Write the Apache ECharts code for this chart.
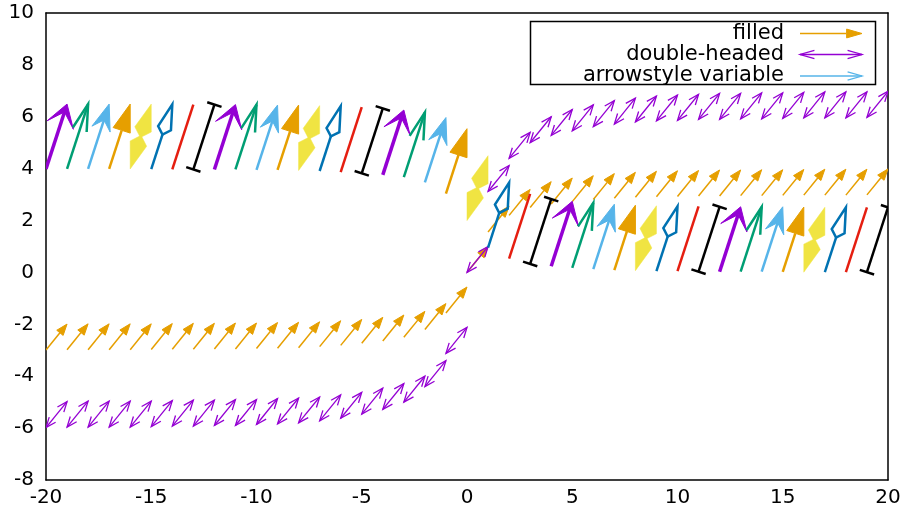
<!DOCTYPE html>
<html><head><meta charset="utf-8">
<script src="https://cdn.jsdelivr.net/npm/echarts@6/dist/echarts.min.js"></script>
<style>html,body{margin:0;padding:0;background:#fff}#c{width:908px;height:513px}</style>
</head><body><div id="c"></div>
<script>
// ---- data ----
const xs = [-20,-19,-18,-17,-16,-15,-14,-13,-12,-11,-10,-9,-8,-7,-6,-5,-4,-3,-2,-1,0,1,2,3,4,5,6,7,8,9,10,11,12,13,14,15,16,17,18,19];
const filledY = [-2.99,-2.98,-2.98,-2.98,-2.98,-2.97,-2.96,-2.96,-2.95,-2.95,-2.93,-2.92,-2.90,-2.86,-2.81,-2.73,-2.64,-2.50,-2.20,-1.56,0,1.56,2.20,2.50,2.64,2.73,2.81,2.86,2.90,2.92,2.93,2.95,2.95,2.96,2.96,2.97,2.98,2.98,2.98,2.99];
const doubleY = [-5.98,-5.96,-5.96,-5.96,-5.96,-5.94,-5.92,-5.92,-5.90,-5.90,-5.86,-5.84,-5.80,-5.72,-5.62,-5.46,-5.28,-5.00,-4.40,-3.12,0,3.12,4.40,5.00,5.28,5.46,5.62,5.72,5.80,5.84,5.86,5.90,5.90,5.92,5.92,5.94,5.96,5.96,5.96,5.98];
const variableY = [3.99,3.99,3.99,3.99,3.99,3.98,3.97,3.97,3.97,3.97,3.95,3.95,3.93,3.91,3.87,3.82,3.76,3.67,3.47,3.04,2.0,0.96,0.53,0.33,0.24,0.18,0.13,0.09,0.07,0.05,0.05,0.03,0.03,0.03,0.03,0.02,0.01,0.01,0.01,0.01];
const styleIdx = [0,1,2,3,4,5,6,7,0,1,2,3,4,5,6,7,0,1,2,3,4,5,6,7,0,1,2,3,4,5,6,7,0,1,2,3,4,5,6,7];
const filledDelta = [1, 1];
const doubleDelta = [1, 1];
const variableDelta = [1, 2.5];
const seriesNames = ['filled', 'double-headed', 'arrowstyle variable'];
const xTickLabels = ['-20','-15','-10','-5','0','5','10','15','20'];
const yTickLabels = ['-8','-6','-4','-2','0','2','4','6','8','10'];

// ---- styles ----
const FONT = 'DejaVu Sans';
const ORANGE = '#e69f00', PURPLE = '#9400d3', LBLUE = '#56b4e9';
const varStyles = [
  {color:'#9400d3', lw:3.5, head:'filled', L:26, a:32, b:45},
  {color:'#009e73', lw:2.5, head:'open', L:28, a:15},
  {color:'#56b4e9', lw:2.5, head:'filled', L:28, a:20, b:45},
  {color:'#e69f00', lw:2.5, head:'filled', L:29, a:18, b:90},
  {color:'#f0e442', lw:0, head:'kites', L:28, a:18, b:135},
  {color:'#0072b2', lw:2.5, head:'empty', L:26, a:15, b:135},
  {color:'#e51e10', lw:2.5, head:'none'},
  {color:'#000000', lw:2.5, head:'bars', L:7.5}
];

function geom(tip, u, n, L, a, b) {
  const r = Math.PI/180;
  const ca = Math.cos(a*r), sa = Math.sin(a*r);
  const bx = tip[0]-u[0]*L*ca, by = tip[1]-u[1]*L*ca, w = L*sa;
  const b1 = [bx+n[0]*w, by+n[1]*w], b2 = [bx-n[0]*w, by-n[1]*w];
  let d = L*ca;
  if (b !== undefined && b !== 90) d = L*ca - w*Math.cos(b*r)/Math.sin(b*r);
  return {b1, b2, back:[tip[0]-u[0]*d, tip[1]-u[1]*d]};
}
function line(p, q, color, lw) {
  return {type:'line', shape:{x1:p[0],y1:p[1],x2:q[0],y2:q[1]}, style:{stroke:color, lineWidth:lw, lineCap:'butt'}};
}
function poly(pts, fill, stroke, lw) {
  return {type:'polygon', shape:{points:pts}, style:{fill:fill, stroke:stroke, lineWidth:lw||0, lineJoin:'miter'}};
}
function pline(pts, color, lw) {
  return {type:'polyline', shape:{points:pts}, style:{stroke:color, lineWidth:lw, fill:null, lineJoin:'miter'}};
}
function arrowShapes(p0, p1, st) {
  const dx = p1[0]-p0[0], dy = p1[1]-p0[1], len = Math.hypot(dx, dy);
  const u = [dx/len, dy/len], n = [-u[1], u[0]];
  const ru = [-u[0], -u[1]], rn = [-n[0], -n[1]];
  const c = st.color, lw = st.lw, out = [];
  if (st.head === 'none') {
    out.push(line(p0, p1, c, lw));
  } else if (st.head === 'filled') {
    const g = geom(p1, u, n, st.L, st.a, st.b);
    out.push(line(p0, g.back, c, lw));
    out.push(poly([p1, g.b1, g.back, g.b2], c, c, 1));
  } else if (st.head === 'open') {
    const g = geom(p1, u, n, st.L, st.a);
    out.push(line(p0, p1, c, lw));
    out.push(pline([g.b1, p1, g.b2], c, lw));
  } else if (st.head === 'openboth') {
    const g = geom(p1, u, n, st.L, st.a);
    const h = geom(p0, ru, rn, st.L, st.a);
    out.push(line(p0, p1, c, lw));
    out.push(pline([g.b1, p1, g.b2], c, lw));
    out.push(pline([h.b1, p0, h.b2], c, lw));
  } else if (st.head === 'kites') {
    const g = geom(p1, u, n, st.L, st.a, st.b);
    const h = geom(p0, ru, rn, st.L, st.a, st.b);
    out.push(poly([p1, g.b1, g.back, g.b2], c, c, 0.5));
    out.push(poly([p0, h.b1, h.back, h.b2], c, c, 0.5));
  } else if (st.head === 'empty') {
    const g = geom(p1, u, n, st.L, st.a, st.b);
    out.push(line(p0, g.back, c, lw));
    out.push(poly([p1, g.b1, g.back, g.b2], null, c, lw));
  } else if (st.head === 'bars') {
    const L = st.L;
    out.push(line(p0, p1, c, lw));
    out.push(line([p0[0]+n[0]*L, p0[1]+n[1]*L], [p0[0]-n[0]*L, p0[1]-n[1]*L], c, lw));
    out.push(line([p1[0]+n[0]*L, p1[1]+n[1]*L], [p1[0]-n[0]*L, p1[1]-n[1]*L], c, lw));
  }
  return out;
}

function makeRender(getStyle) {
  return function (params, api) {
    const x = api.value(0), y = api.value(1), dx = api.value(2), dy = api.value(3);
    const p0 = api.coord([x, y]), p1 = api.coord([x+dx, y+dy]);
    return {type:'group', children: arrowShapes(p0, p1, getStyle(api.value(4)))};
  };
}

const filledStyle = {color:ORANGE, lw:1.5, head:'filled', L:12, a:20, b:90};
const doubleStyle = {color:PURPLE, lw:1.3, head:'openboth', L:11, a:22};

function build(ys, delta, withStyle) {
  return xs.map((x, i) => [x, ys[i], delta[0], delta[1], withStyle ? styleIdx[i] : 0]);
}

const chart = echarts.init(document.getElementById('c'), null, {renderer:'canvas'});

const axisCommon = {
  axisLine:{show:true, onZero:false, lineStyle:{color:'#000', width:1.5}},
  axisTick:{show:false},
  splitLine:{show:false}
};

// legend (graphic)
const lgX = 784, smp0 = 800, smp1 = 862, rows = [33.5, 54.5, 76];
function legendSample(idx, y) {
  const p0 = [smp0, y], p1 = [smp1, y];
  let st;
  if (idx === 0) st = {color:ORANGE, lw:1.5, head:'filled', L:16, a:16, b:90};
  else if (idx === 1) st = {color:PURPLE, lw:1.3, head:'openboth', L:15, a:16};
  else st = {color:LBLUE, lw:1.3, head:'open', L:15, a:16};
  return arrowShapes(p0, p1, st);
}
const graphicEls = [
  {type:'rect', shape:{x:530.5, y:21.5, width:345, height:63}, style:{fill:null, stroke:'#000', lineWidth:1.5}, z:10}
];
seriesNames.forEach((nm, i) => {
  graphicEls.push({type:'text', x:lgX, y:rows[i], style:{text:nm, font:'21px "DejaVu Sans"', fill:'#000', align:'right', verticalAlign:'middle'}, z:10});
  graphicEls.push({type:'group', children: legendSample(i, rows[i]), z:10});
});

chart.setOption({
  animation:false,
  backgroundColor:'#fff',
  grid:{left:46, right:20, top:13, bottom:33, show:false},
  xAxis:[
    Object.assign({type:'value', min:-20, max:20, interval:5, position:'bottom',
      axisLabel:{show:true, margin:8, fontFamily:FONT, fontSize:20, color:'#000',
        formatter:(v)=>{const i=Math.round((v+20)/5); return xTickLabels[i];}}}, axisCommon),
    Object.assign({type:'value', min:-20, max:20, interval:5, position:'top', axisLabel:{show:false}}, axisCommon)
  ],
  yAxis:[
    Object.assign({type:'value', min:-8, max:10, interval:2, position:'left',
      axisLabel:{show:true, margin:12, fontFamily:FONT, fontSize:20, color:'#000',
        formatter:(v)=>{const i=Math.round((v+8)/2); return yTickLabels[i];}}}, axisCommon),
    Object.assign({type:'value', min:-8, max:10, interval:2, position:'right', axisLabel:{show:false}}, axisCommon)
  ],
  graphic: graphicEls,
  series:[
    {type:'custom', name:seriesNames[0], xAxisIndex:0, yAxisIndex:0, clip:true, silent:true,
      encode:{x:0, y:1}, data: build(filledY, filledDelta, false),
      renderItem: makeRender(() => filledStyle)},
    {type:'custom', name:seriesNames[1], xAxisIndex:0, yAxisIndex:0, clip:true, silent:true,
      encode:{x:0, y:1}, data: build(doubleY, doubleDelta, false),
      renderItem: makeRender(() => doubleStyle)},
    {type:'custom', name:seriesNames[2], xAxisIndex:0, yAxisIndex:0, clip:true, silent:true,
      encode:{x:0, y:1}, data: build(variableY, variableDelta, true),
      renderItem: makeRender((k) => varStyles[k])}
  ]
});
</script></body></html>
